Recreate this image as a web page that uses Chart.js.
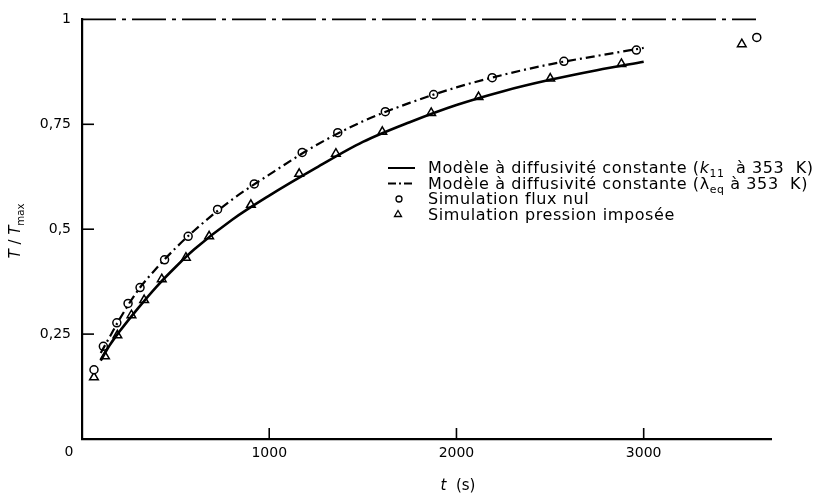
<!DOCTYPE html>
<html>
<head>
<meta charset="utf-8">
<script src="https://cdn.jsdelivr.net/npm/chart.js@4.4.0/dist/chart.umd.min.js"></script>
<style>
  html, body { margin: 0; padding: 0; background: #fff; }
  #wrap { width: 816px; height: 495px; }
</style>
</head>
<body>
<div id="wrap"><canvas id="chart"></canvas></div>
<script>
// model curves
const modelT = [100, 150, 200, 300, 400, 500, 600, 800, 1000, 1250, 1500, 1750, 2000, 2250, 2500, 2750, 3000];
const modelK11 = [0.187, 0.225, 0.256, 0.312, 0.364, 0.410, 0.452, 0.522, 0.580, 0.646, 0.708, 0.755, 0.796, 0.829, 0.856, 0.879, 0.899];
const modelLambda = [0.205, 0.245, 0.285, 0.355, 0.408, 0.455, 0.497, 0.570, 0.630, 0.700, 0.757, 0.801, 0.838, 0.868, 0.893, 0.913, 0.932];

// simulations
const fluxT = [64, 114, 186, 246, 310, 441, 567, 724, 920, 1176, 1366, 1620, 1878, 2191, 2574, 2961, 3604];
const fluxY = [0.165, 0.221, 0.277, 0.323, 0.361, 0.427, 0.483, 0.547, 0.608, 0.683, 0.730, 0.780, 0.821, 0.861, 0.900, 0.927, 0.957];
const presT = [64, 123, 189, 264, 332, 426, 555, 679, 902, 1160, 1356, 1604, 1865, 2118, 2501, 2881, 3524];
const presY = [0.147, 0.197, 0.247, 0.295, 0.331, 0.381, 0.432, 0.483, 0.558, 0.632, 0.680, 0.732, 0.777, 0.815, 0.859, 0.894, 0.941];

// asymptote T/Tmax = 1
const asymT = [0, 3600];
const asymY = [1, 1];

const xTicks = [1000, 2000, 3000];
const yTicks = [0.25, 0.5, 0.75, 1];

const FONT = "'DejaVu Sans', sans-serif";
const DASHDOT = [9, 4, 2, 4];

function toXY(xs, ys) {
    return xs.map((x, i) => ({ x: x, y: ys[i] }));
}

function drawRun(ctx, x, y, parts, size) {
    parts.forEach(p => {
        const s = p.sub ? size * 0.68 : size;
        ctx.font = (p.italic ? "italic " : "") + s + "px " + FONT;
        ctx.fillText(p.text, x, y + (p.sub ? size * 0.28 : 0));
        x += ctx.measureText(p.text).width;
    });
    return x;
}

function runWidth(ctx, parts, size) {
    let w = 0;
    parts.forEach(p => {
        const s = p.sub ? size * 0.68 : size;
        ctx.font = (p.italic ? "italic " : "") + s + "px " + FONT;
        w += ctx.measureText(p.text).width;
    });
    return w;
}

const decorations = {
    id: "decorations",
    afterDraw(chart) {
        const ctx = chart.ctx;
        const xs = chart.scales.x;
        const ys = chart.scales.y;
        ctx.save();
        ctx.strokeStyle = "#000";
        ctx.fillStyle = "#000";
        ctx.lineWidth = 1.6;

        // inward tick marks
        xTicks.forEach(v => {
            const px = xs.getPixelForValue(v);
            ctx.beginPath();
            ctx.moveTo(px, ys.bottom);
            ctx.lineTo(px, ys.bottom - 11);
            ctx.stroke();
        });
        yTicks.slice(0, 3).forEach(v => {
            const py = ys.getPixelForValue(v);
            ctx.beginPath();
            ctx.moveTo(xs.left, py);
            ctx.lineTo(xs.left + 12, py);
            ctx.stroke();
        });

        // origin label
        ctx.font = "14px " + FONT;
        ctx.textAlign = "center";
        ctx.textBaseline = "alphabetic";
        ctx.fillText("0", xs.left - 13, ys.bottom + 17);

        // x title
        ctx.textAlign = "left";
        const xt = [{ text: "t", italic: true }, { text: "  (s)" }];
        const xw = runWidth(ctx, xt, 15);
        drawRun(ctx, 458 - xw / 2, 490, xt, 15);

        // y title, rotated
        const yt = [{ text: "T", italic: true }, { text: " / " }, { text: "T", italic: true }, { text: "max", sub: true }];
        ctx.save();
        ctx.translate(20, 231);
        ctx.rotate(-Math.PI / 2);
        const yw = runWidth(ctx, yt, 15);
        drawRun(ctx, -yw / 2, 0, yt, 15);
        ctx.restore();

        // legend
        const lx0 = 388, lx1 = 415, tx = 428, size = 16;
        const rows = [173, 188.5, 204, 219.5];
        ctx.lineWidth = 2;
        ctx.setLineDash([]);
        ctx.beginPath();
        ctx.moveTo(lx0, rows[0] - 5);
        ctx.lineTo(lx1, rows[0] - 5);
        ctx.stroke();
        ctx.setLineDash([8, 3, 2, 3]);
        ctx.beginPath();
        ctx.moveTo(lx0, rows[1] - 5);
        ctx.lineTo(lx1, rows[1] - 5);
        ctx.stroke();
        ctx.setLineDash([]);
        ctx.lineWidth = 1.3;
        ctx.beginPath();
        ctx.arc(399, rows[2] - 5, 3, 0, Math.PI * 2);
        ctx.stroke();
        ctx.beginPath();
        ctx.moveTo(398, rows[3] - 9);
        ctx.lineTo(401.5, rows[3] - 3);
        ctx.lineTo(394.5, rows[3] - 3);
        ctx.closePath();
        ctx.stroke();

        ctx.letterSpacing = "0.6px";
        drawRun(ctx, tx, rows[0], [
            { text: "Modèle à diffusivité constante (" },
            { text: "k", italic: true },
            { text: "11", sub: true },
            { text: "  à 353  K)" }
        ], size);
        drawRun(ctx, tx, rows[1], [
            { text: "Modèle à diffusivité constante (λ" },
            { text: "eq", sub: true },
            { text: " à 353  K)" }
        ], size);
        drawRun(ctx, tx, rows[2], [{ text: "Simulation flux nul" }], size);
        drawRun(ctx, tx, rows[3], [{ text: "Simulation pression imposée" }], size);
        ctx.letterSpacing = "0px";

        ctx.restore();
    }
};

new Chart(document.getElementById("chart"), {
    type: "scatter",
    data: {
        datasets: [
            {
                type: "line",
                label: "asymptote",
                data: toXY(asymT, asymY),
                borderColor: "#000",
                borderWidth: 1.8,
                borderDash: [34, 6, 4, 6],
                pointRadius: 0,
                clip: 6,
                fill: false
            },
            {
                type: "line",
                label: "Modèle à diffusivité constante (k11 à 353 K)",
                data: toXY(modelT, modelK11),
                borderColor: "#000",
                borderWidth: 2.6,
                cubicInterpolationMode: "monotone",
                pointRadius: 0,
                fill: false
            },
            {
                type: "line",
                label: "Modèle à diffusivité constante (λeq à 353 K)",
                data: toXY(modelT, modelLambda),
                borderColor: "#000",
                borderWidth: 2.2,
                borderDash: DASHDOT,
                cubicInterpolationMode: "monotone",
                pointRadius: 0,
                fill: false
            },
            {
                label: "Simulation flux nul",
                data: toXY(fluxT, fluxY),
                pointStyle: "circle",
                pointRadius: 4,
                borderColor: "#000",
                backgroundColor: "#fff",
                borderWidth: 1.5
            },
            {
                label: "Simulation pression imposée",
                data: toXY(presT, presY),
                pointStyle: "triangle",
                pointRadius: 5,
                borderColor: "#000",
                backgroundColor: "#fff",
                borderWidth: 1.5
            }
        ]
    },
    options: {
        responsive: true,
        maintainAspectRatio: false,
        animation: false,
        layout: { padding: { top: 16, right: 45, left: 0, bottom: 0 } },
        plugins: {
            legend: { display: false },
            tooltip: { enabled: false }
        },
        scales: {
            x: {
                type: "linear",
                min: 0,
                max: 3680,
                afterFit: function (scale) { scale.height = 56; },
                afterBuildTicks: function (scale) {
                    scale.ticks = xTicks.map(v => ({ value: v }));
                },
                grid: { drawOnChartArea: false, drawTicks: false },
                border: { display: true, color: "#000", width: 2.2 },
                ticks: {
                    color: "#000",
                    padding: 6,
                    font: { family: FONT, size: 14 },
                    callback: function (v) { return String(v); }
                }
            },
            y: {
                min: 0,
                max: 1,
                afterFit: function (scale) { scale.width = 82; },
                afterBuildTicks: function (scale) {
                    scale.ticks = yTicks.map(v => ({ value: v }));
                },
                grid: { drawOnChartArea: false, drawTicks: false },
                border: { display: true, color: "#000", width: 2.2 },
                ticks: {
                    color: "#000",
                    padding: 11,
                    font: { family: FONT, size: 14 },
                    callback: function (v) { return String(v).replace(".", ","); }
                }
            }
        }
    },
    plugins: [decorations]
});
</script>
</body>
</html>
